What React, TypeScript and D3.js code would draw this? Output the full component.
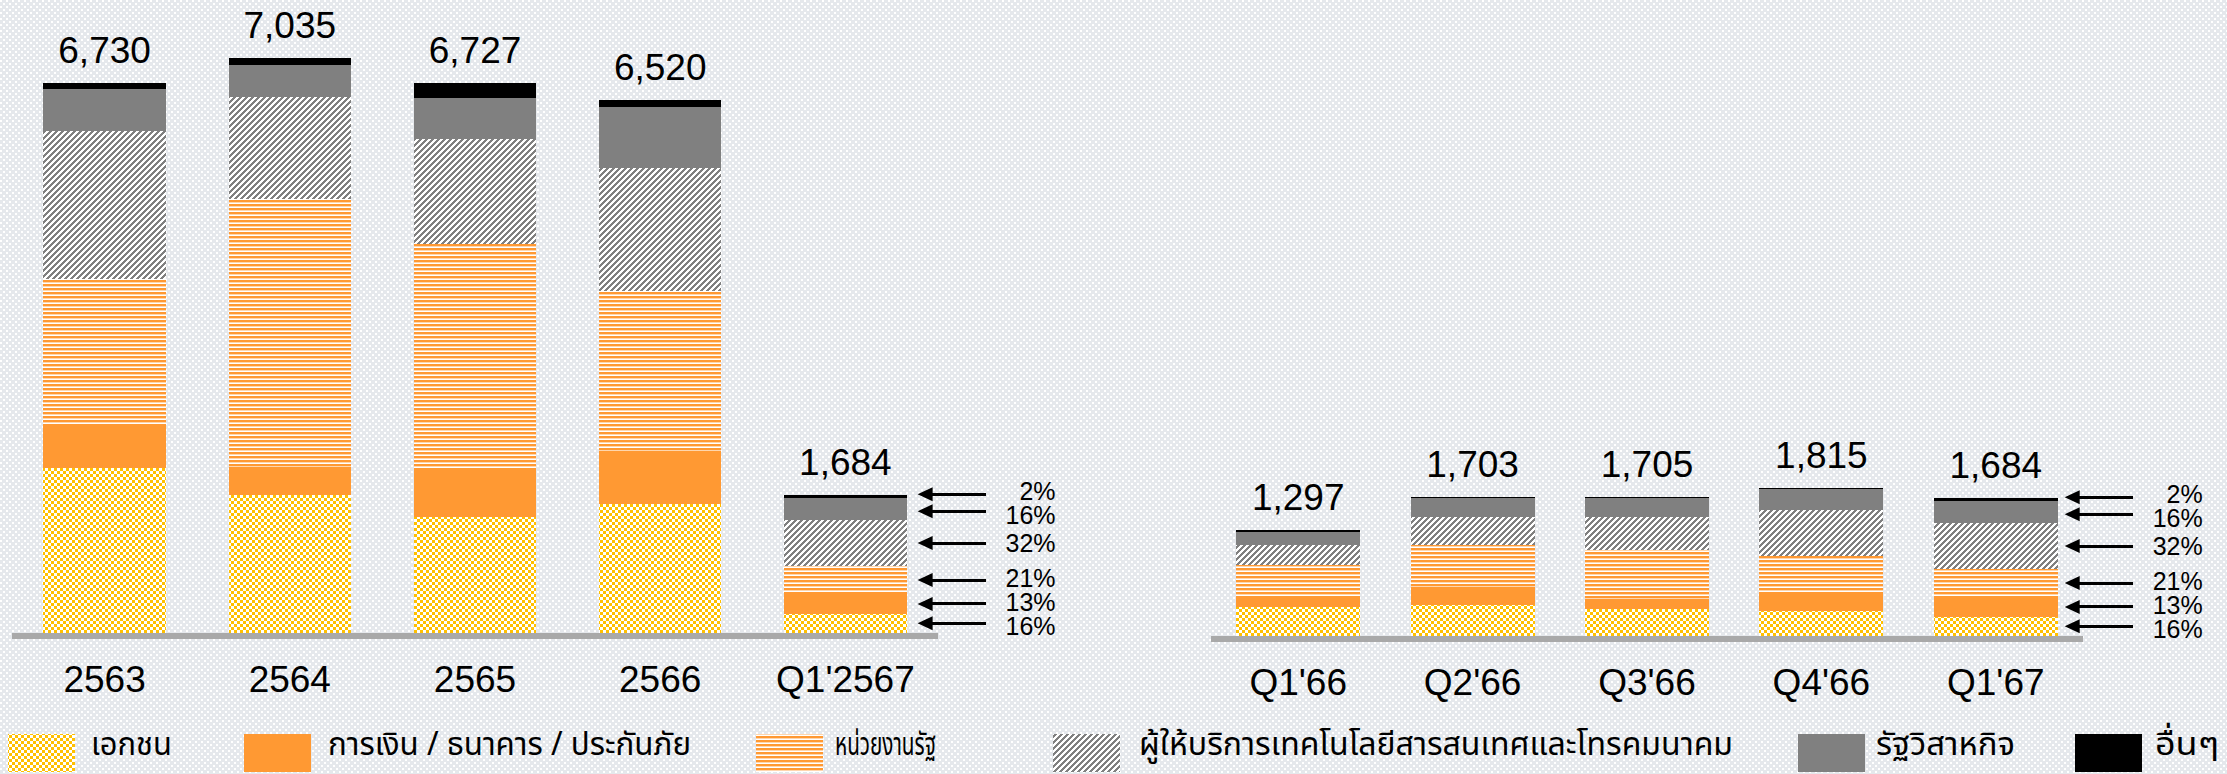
import React from "react";
import * as d3 from "d3";

// ---------- DATA ----------
const seriesNames = [
  "เอกชน",
  "การเงิน / ธนาคาร / ประกันภัย",
  "หน่วยงานรัฐ",
  "ผู้ให้บริการเทคโนโลยีสารสนเทศและโทรคมนาคม",
  "รัฐวิสาหกิจ",
  "อื่นๆ",
];

const yearCategories = ["2563", "2564", "2565", "2566", "Q1'2567"];
const quarterCategories = ["Q1'66", "Q2'66", "Q3'66", "Q4'66", "Q1'67"];

// yearly (left group)
const privateYear = [2015, 1694, 1421, 1584, 238];
const financeYear = [517, 337, 579, 639, 234];
const governmentYear = [1804, 3281, 2764, 1967, 350];
const ictYear = [1808, 1250, 1286, 1499, 558];
const stateEnterpriseYear = [513, 387, 501, 741, 274];
const otherYear = [73, 86, 176, 90, 30];

// quarterly (right group)
const privateQuarter = [352, 379, 331, 311, 238];
const financeQuarter = [108, 217, 123, 214, 234];
const governmentQuarter = [414, 513, 594, 458, 350];
const ictQuarter = [236, 353, 402, 557, 558];
const stateEnterpriseQuarter = [167, 225, 234, 254, 274];
const otherQuarter = [20, 16, 21, 21, 30];

// share labels of the last bar in each group (same order as seriesNames)
const shareLabels = ["16%", "13%", "21%", "32%", "16%", "2%"];

// ---------- STYLE / LAYOUT ----------
const W = 2227;
const H = 774;
const NUM_FONT = "'Liberation Sans', Arial, Helvetica, sans-serif";
const THAI_FONT = "'Noto Sans Thai', 'Noto Sans Thai UI', 'Noto Sans', 'DejaVu Sans', sans-serif";
const ORANGE = "#FF9933";
const GOLD = "#FFC000";
const GRAY = "#808080";

const fills = [
  "url(#pCheck)",
  ORANGE,
  "url(#pStripe)",
  "url(#pDiag)",
  GRAY,
  "#000000",
];

const legendLayout = [
  { sx: 8, tx: 91, tl: 81 },
  { sx: 244, tx: 328, tl: 363 },
  { sx: 756, tx: 835, tl: 101 },
  { sx: 1053, tx: 1139, tl: 594 },
  { sx: 1798, tx: 1876, tl: 139 },
  { sx: 2075, tx: 2155, tl: 64 },
];

const heightScale = d3.scaleLinear().domain([0, 7035]).range([0, 575]);

function spread(targets: number[], minGap: number): number[] {
  const p = targets.slice();
  for (let it = 0; it < 200; it++) {
    let moved = false;
    for (let i = 0; i < p.length - 1; i++) {
      const gap = p[i + 1] - p[i];
      if (gap < minGap - 0.01) {
        const d = (minGap - gap) / 2;
        p[i] -= d;
        p[i + 1] += d;
        moved = true;
      }
    }
    if (!moved) break;
  }
  return p;
}

type GroupCfg = {
  cats: string[];
  series: number[][];
  range: [number, number];
  padInner: number;
  baseline: number;
  tipOff: number;
};

const groups: GroupCfg[] = [
  {
    cats: yearCategories,
    series: [privateYear, financeYear, governmentYear, ictYear, stateEnterpriseYear, otherYear],
    range: [12, 938],
    padInner: 0.339,
    baseline: 633,
    tipOff: 11,
  },
  {
    cats: quarterCategories,
    series: [
      privateQuarter,
      financeQuarter,
      governmentQuarter,
      ictQuarter,
      stateEnterpriseQuarter,
      otherQuarter,
    ],
    range: [1211, 2083],
    padInner: 0.29,
    baseline: 636,
    tipOff: 7,
  },
];

const fmt = d3.format(",");

function Group({ cfg, gi }: { cfg: GroupCfg; gi: number }) {
  const x = d3
    .scaleBand<string>()
    .domain(cfg.cats)
    .range(cfg.range)
    .paddingInner(cfg.padInner)
    .paddingOuter(cfg.padInner / 2);
  const keys = seriesNames.map((_, i) => String(i));
  const rows = cfg.cats.map((c, ci) => {
    const r: any = { cat: c };
    cfg.series.forEach((s, si) => (r[String(si)] = s[ci]));
    return r;
  });
  const stacked = d3.stack<any>().keys(keys)(rows);
  const yOf = (v: number) => cfg.baseline - heightScale(v);
  const bw = x.bandwidth();

  const lastIdx = cfg.cats.length - 1;
  const lastCat = cfg.cats[lastIdx];
  const centers = stacked
    .map((layer, si) => ({
      si,
      c: (yOf(layer[lastIdx][0]) + yOf(layer[lastIdx][1])) / 2,
    }))
    .reverse();
  const arrowYs = spread(centers.map((d) => d.c), 17);
  const textYs = spread(centers.map((d) => d.c), 24);
  const tipX = (x(lastCat) as number) + bw + cfg.tipOff;

  return (
    <g>
      {stacked.map((layer, si) => (
        <g key={si}>
          {layer.map((d, ci) => (
            <rect
              key={ci}
              x={x(cfg.cats[ci])}
              y={yOf(d[1])}
              width={bw}
              height={Math.max(0, yOf(d[0]) - yOf(d[1]))}
              fill={fills[si]}
            />
          ))}
        </g>
      ))}
      {cfg.cats.map((c, ci) => {
        const total = d3.sum(cfg.series, (s) => s[ci]);
        return (
          <text
            key={c}
            x={(x(c) as number) + bw / 2}
            y={yOf(total) - 20}
            textAnchor="middle"
            fontFamily={NUM_FONT}
            fontSize={37}
            fill="#000"
          >
            {fmt(total)}
          </text>
        );
      })}
      <rect
        x={cfg.range[0]}
        y={cfg.baseline}
        width={cfg.range[1] - cfg.range[0]}
        height={6}
        fill="#A9A9A9"
      />
      {cfg.cats.map((c) => (
        <text
          key={c}
          x={(x(c) as number) + bw / 2}
          y={cfg.baseline + 59}
          textAnchor="middle"
          fontFamily={NUM_FONT}
          fontSize={37}
          fill="#000"
        >
          {c}
        </text>
      ))}
      {centers.map((d, k) => (
        <g key={"a" + gi + k}>
          <line
            x1={tipX + 12}
            x2={tipX + 68}
            y1={arrowYs[k]}
            y2={arrowYs[k]}
            stroke="#000"
            strokeWidth={3}
          />
          <polygon
            points={`${tipX},${arrowYs[k]} ${tipX + 15},${arrowYs[k] - 7} ${tipX + 15},${arrowYs[k] + 7}`}
            fill="#000"
            shapeRendering="auto"
          />
          <text
            x={tipX + 138}
            y={textYs[k] + 9}
            textAnchor="end"
            fontFamily={NUM_FONT}
            fontSize={25}
            fill="#000"
          >
            {shareLabels[d.si]}
          </text>
        </g>
      ))}
    </g>
  );
}

export default function App() {
  const checkCells: JSX.Element[] = [];
  checkCells.push(<rect key="c0" x={0} y={0} width={3} height={3} fill={GOLD} />);
  checkCells.push(<rect key="c1" x={3} y={3} width={3} height={3} fill={GOLD} />);

  const diagCells: JSX.Element[] = [];
  const P = 6;
  for (let r = 0; r < P; r++) {
    for (let k = 0; k < 3; k++) {
      const cx = (((-r + k) % P) + P) % P;
      diagCells.push(<rect key={r + "-" + k} x={cx} y={r} width={1} height={1} fill={GRAY} />);
    }
  }

  return (
    <svg
      width={W}
      height={H}
      viewBox={`0 0 ${W} ${H}`}
      style={{ position: "absolute", left: 0, top: 0, display: "block" }}
      shapeRendering="crispEdges"
    >
      <defs>
        <pattern id="pBg" patternUnits="userSpaceOnUse" width={6} height={6}>
          <rect width={6} height={6} fill="#E5E8EC" />
          <rect x={0} y={0} width={2} height={2} fill="#FFFFFF" />
          <rect x={3} y={3} width={2} height={2} fill="#FFFFFF" />
        </pattern>
        <pattern id="pCheck" patternUnits="userSpaceOnUse" width={6} height={6}>
          <rect width={6} height={6} fill="#FFFFFF" />
          {checkCells}
        </pattern>
        <pattern id="pStripe" patternUnits="userSpaceOnUse" width={4} height={4}>
          <rect width={4} height={4} fill="#FFFFFF" />
          <rect x={0} y={0} width={4} height={2.4} fill={ORANGE} shapeRendering="auto" />
        </pattern>
        <pattern id="pDiag" patternUnits="userSpaceOnUse" width={P} height={P}>
          <rect width={P} height={P} fill="#FFFFFF" />
          {diagCells}
        </pattern>
      </defs>
      <rect x={0} y={0} width={W} height={H} fill="url(#pBg)" />

      {groups.map((g, gi) => (
        <Group key={gi} cfg={g} gi={gi} />
      ))}

      {seriesNames.map((name, i) => (
        <g key={name}>
          <rect x={legendLayout[i].sx} y={734} width={67} height={38} fill={fills[i]} />
          <text
            x={legendLayout[i].tx}
            y={755}
            fontFamily={THAI_FONT}
            fontSize={32}
            fill="#000"
            textLength={legendLayout[i].tl}
            lengthAdjust="spacingAndGlyphs"
            shapeRendering="auto"
          >
            {name}
          </text>
        </g>
      ))}
    </svg>
  );
}
